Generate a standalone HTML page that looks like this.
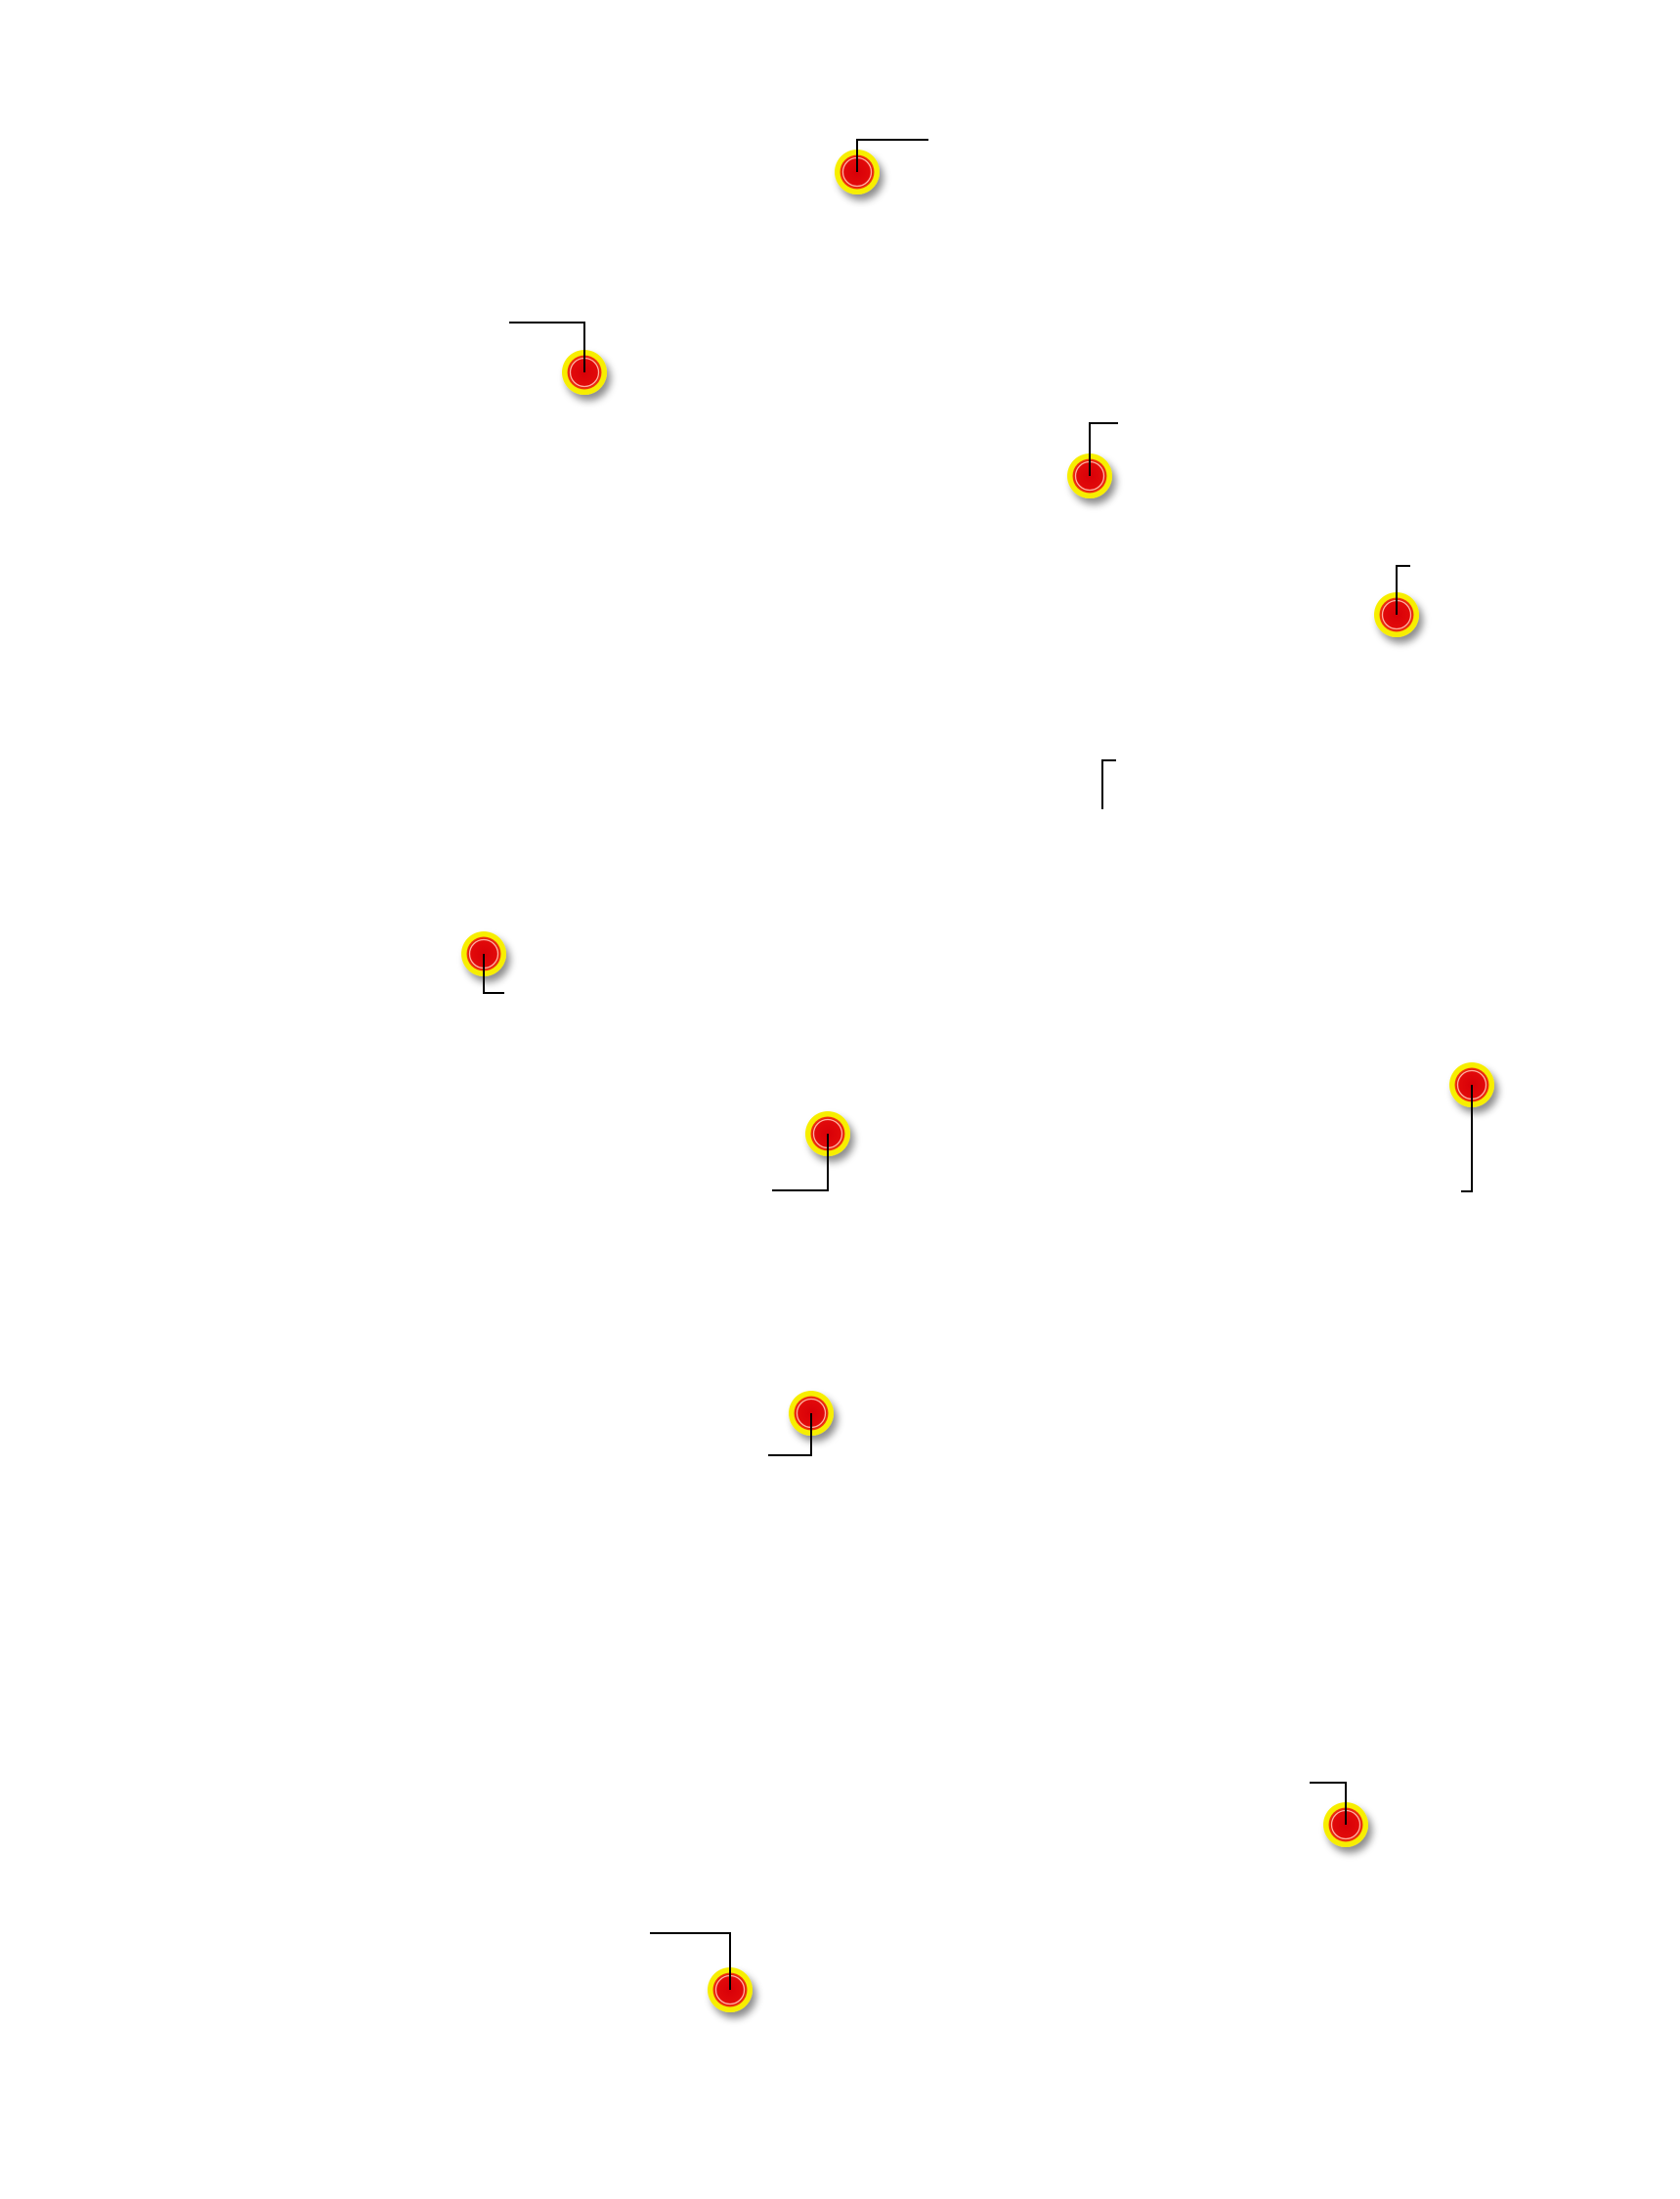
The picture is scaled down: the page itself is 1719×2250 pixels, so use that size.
<!DOCTYPE html>
<html><head><meta charset="utf-8"><style>
html,body{margin:0;padding:0;background:#fff;}
svg{display:block;}
</style></head><body>
<svg width="1719" height="2250" viewBox="0 0 1719 2250" xmlns="http://www.w3.org/2000/svg">
<defs>
<filter id="sh" x="-50%" y="-50%" width="200%" height="200%">
<feDropShadow dx="4" dy="6" stdDeviation="4" flood-color="#000" flood-opacity="0.45"/>
</filter>
<radialGradient id="rg" cx="50%" cy="50%" r="50%">
<stop offset="0%" stop-color="#d80008"/>
<stop offset="80%" stop-color="#e20a0a"/>
<stop offset="100%" stop-color="#f04010"/>
</radialGradient>
<g id="m">
<circle r="23" fill="#f7ee00" stroke="none" filter="url(#sh)"/>
<circle r="17.5" fill="url(#rg)" stroke="none"/>
<circle r="14.5" fill="none" stroke="#ffb0a0" stroke-width="1.3"/>
</g>
</defs>
<g transform="translate(2,3)">
<use href="#m" x="875" y="173"/>
<use href="#m" x="596" y="378"/>
<use href="#m" x="1113" y="484"/>
<use href="#m" x="1427" y="626"/>
<use href="#m" x="493" y="973"/>
<use href="#m" x="845" y="1157"/>
<use href="#m" x="1504" y="1107"/>
<use href="#m" x="828" y="1443"/>
<use href="#m" x="1375" y="1864"/>
<use href="#m" x="745" y="2033"/>
<g fill="none" stroke="#000" stroke-width="2">
<polyline points="875,173 875,140 948,140"/>
<polyline points="596,378 596,327 519,327"/>
<polyline points="1113,484 1113,430 1142,430"/>
<polyline points="1427,626 1427,576 1441,576"/>
<polyline points="1126,825 1126,775 1140,775"/>
<polyline points="493,973 493,1013 514,1013"/>
<polyline points="845,1157 845,1215 788,1215"/>
<polyline points="1504,1107 1504,1216 1493,1216"/>
<polyline points="828,1443 828,1486 784,1486"/>
<polyline points="1375,1864 1375,1821 1338,1821"/>
<polyline points="745,2033 745,1975 663,1975"/>
</g>
</g>
</svg>
</body></html>
